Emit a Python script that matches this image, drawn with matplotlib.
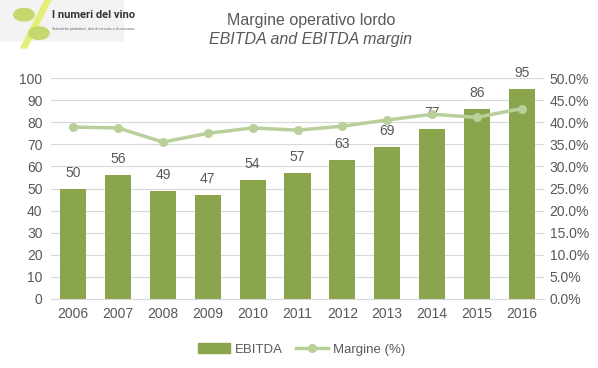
import matplotlib.pyplot as plt
import matplotlib.patches as mpatches
from matplotlib.ticker import FuncFormatter, MultipleLocator

plt.rcParams['font.family'] = ['Liberation Sans', 'DejaVu Sans']

# dati
anni = ['2006', '2007', '2008', '2009', '2010', '2011', '2012', '2013', '2014', '2015', '2016']
ebitda = [50, 56, 49, 47, 54, 57, 63, 69, 77, 86, 95]
margine = [38.9, 38.7, 35.5, 37.5, 38.7, 38.2, 39.1, 40.5, 41.8, 41.1, 43.1]

bar_col = '#8BA54C'
line_col = '#B9D09A'
txt_col = '#595959'

fig = plt.figure(figsize=(5.98, 3.68), dpi=100)
ax = fig.add_axes([0.085, 0.1875, 0.825, 0.6005])
x = range(len(anni))
bars = ax.bar(x, ebitda, width=0.58, color=bar_col, zorder=2, label='EBITDA')
for xi, v in zip(x, ebitda):
    ax.text(xi, v + 4, str(v), ha='center', va='bottom', fontsize=10, color=txt_col)

ax.set_ylim(0, 100)
ax.set_xlim(-0.5, len(anni) - 0.5)
ax.yaxis.set_major_locator(MultipleLocator(10))
ax.set_xticks(list(x))
ax.set_xticklabels(anni)
ax.grid(axis='y', color='#D9D9D9', linewidth=0.8, zorder=0)
for s in ['top', 'right', 'left']:
    ax.spines[s].set_visible(False)
ax.spines['bottom'].set_color('#D9D9D9')
ax.tick_params(length=0, labelsize=10, colors=txt_col, pad=6)

ax2 = ax.twinx()
ax2.plot(x, margine, color=line_col, linewidth=2.5, marker='o', markersize=5.5, zorder=3, label='Margine (%)')
ax2.set_ylim(0, 50)
ax2.yaxis.set_major_locator(MultipleLocator(5))
ax2.yaxis.set_major_formatter(FuncFormatter(lambda v, p: '%.1f%%' % v))
for s in ['top', 'right', 'left', 'bottom']:
    ax2.spines[s].set_visible(False)
ax2.tick_params(length=0, labelsize=10, colors=txt_col, pad=4)

fig.text(0.52, 0.945, 'Margine operativo lordo', ha='center', va='center', fontsize=11.5, color=txt_col)
fig.text(0.52, 0.893, 'EBITDA and EBITDA margin', ha='center', va='center', fontsize=11.5, color=txt_col, style='italic')

# logo
fig.patches.append(mpatches.Rectangle((0, 0.89), 0.205, 0.11, transform=fig.transFigure, color='#F3F3F3', zorder=0))
fig.patches.append(mpatches.Polygon([[0.035, 0.87], [0.045, 0.87], [0.085, 1.0], [0.075, 1.0]], closed=True,
                                    transform=fig.transFigure, color='#E6EE7A', zorder=1))
fig.patches.append(mpatches.Circle((0.04, 0.96), 0.017, transform=fig.transFigure, color='#C4D86E', zorder=2))
fig.patches.append(mpatches.Circle((0.065, 0.91), 0.017, transform=fig.transFigure, color='#C4D86E', zorder=2))
fig.text(0.087, 0.958, 'I numeri del vino', ha='left', va='center', fontsize=8, color='#333333',
         family=['Roboto', 'DejaVu Sans'], fontweight='bold')
fig.text(0.087, 0.922, 'Statistiche produttive, dati di mercato e di consumo.', ha='left', va='center',
         fontsize=2.6, color='#666666')

h = [mpatches.Patch(color=bar_col), ax2.lines[0]]
fig.legend(h, ['EBITDA', 'Margine (%)'], loc='center', bbox_to_anchor=(0.505, 0.05), ncol=2, frameon=False,
           fontsize=9.5, labelcolor=txt_col, handlelength=2.4, handleheight=0.7, columnspacing=1.0,
           handletextpad=0.4)

fig.savefig('out.png', dpi=100)
